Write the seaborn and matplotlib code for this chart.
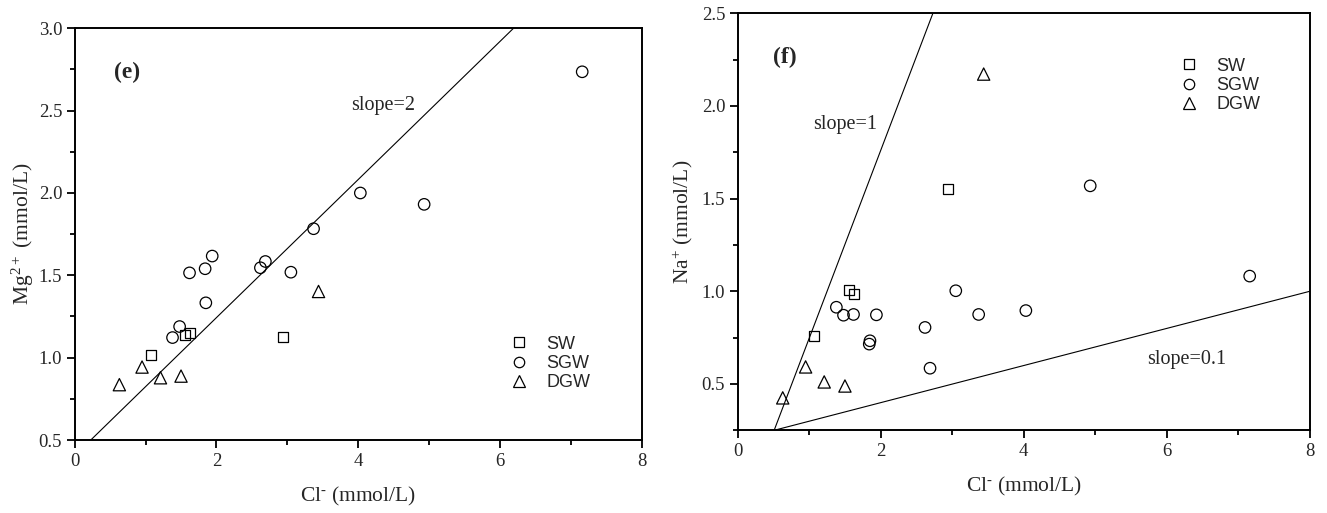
import matplotlib
matplotlib.use("Agg")
import matplotlib.pyplot as plt
import seaborn as sns
import pandas as pd
from matplotlib.lines import Line2D
from matplotlib.ticker import MultipleLocator, FormatStrFormatter

# Sample groups
groups = ["SW", "SGW", "DGW"]

# Chloride (mmol/L)
cl_sw = [1.07, 1.56, 1.62, 2.94]
cl_sgw = [7.16, 4.03, 4.93, 3.37, 1.94, 1.84, 1.62, 2.62, 2.69, 3.05, 1.85, 1.48, 1.38]
cl_dgw = [0.63, 0.95, 1.21, 1.50, 3.44]

# Magnesium (mmol/L)
mg_sw = [1.016, 1.138, 1.148, 1.126]
mg_sgw = [2.736, 2.000, 1.931, 1.783, 1.617, 1.540, 1.515, 1.546, 1.584, 1.519, 1.333, 1.189, 1.122]
mg_dgw = [0.836, 0.943, 0.878, 0.888, 1.402]

# Sodium (mmol/L)
na_sw = [0.759, 1.006, 0.986, 1.550]
na_sgw = [1.082, 0.896, 1.569, 0.875, 0.873, 0.715, 0.875, 0.805, 0.585, 1.003, 0.733, 0.871, 0.914]
na_dgw = [0.425, 0.592, 0.511, 0.489, 2.172]

# Reference lines (end points in data units)
mg_line_x = [0.227, 6.19]
mg_line_y = [0.5, 3.0]
na_line1_x = [0.51, 2.73]
na_line1_y = [0.25, 2.5]
na_line2_x = [0.51, 8.0]
na_line2_y = [0.25, 1.0]

sns.set_style("ticks")
plt.rcParams["font.family"] = ["Liberation Serif", "DejaVu Serif"]
plt.rcParams["mathtext.fontset"] = "custom"
plt.rcParams["mathtext.rm"] = "Liberation Serif"
plt.rcParams["mathtext.default"] = "regular"

df = pd.DataFrame({
    "group": ["SW"] * len(cl_sw) + ["SGW"] * len(cl_sgw) + ["DGW"] * len(cl_dgw),
    "Cl": cl_sw + cl_sgw + cl_dgw,
    "Mg": mg_sw + mg_sgw + mg_dgw,
    "Na": na_sw + na_sgw + na_dgw,
})

markers = {"SW": "s", "SGW": "o", "DGW": "^"}
sizes = {"SW": 52, "SGW": 68, "DGW": 78}

fig = plt.figure(figsize=(13.27, 5.13), dpi=100)
ax1 = fig.add_axes([0.0563, 0.1423, 0.4273, 0.8025])
ax2 = fig.add_axes([0.5559, 0.1612, 0.4311, 0.8129])


def draw_points(ax, ycol):
    for g in groups:
        sub = df[df["group"] == g]
        sns.scatterplot(data=sub, x="Cl", y=ycol, marker=markers[g], s=sizes[g],
                        ax=ax, legend=False, zorder=3)
        coll = ax.collections[-1]
        coll.set_facecolor("none")
        coll.set_edgecolor("black")
        coll.set_linewidth(0.9)


def style_axes(ax, ylim):
    ax.set_xlim(0, 8)
    ax.set_ylim(*ylim)
    ax.xaxis.set_major_locator(MultipleLocator(2))
    ax.xaxis.set_minor_locator(MultipleLocator(1))
    ax.yaxis.set_major_locator(MultipleLocator(0.5))
    ax.yaxis.set_minor_locator(MultipleLocator(0.25))
    ax.yaxis.set_major_formatter(FormatStrFormatter("%.1f"))
    ax.xaxis.set_major_formatter(FormatStrFormatter("%d"))
    for s in ax.spines.values():
        s.set_visible(True)
        s.set_linewidth(1.4)
        s.set_color("black")
    ax.tick_params(which="major", direction="out", length=6, width=1.3,
                   labelsize=13.5, pad=3, color="black")
    ax.tick_params(which="minor", direction="out", length=3.5, width=1.3, color="black")
    ax.set_xlabel(r"Cl$^{\text{-}}$ (mmol/L)", fontsize=15.5, labelpad=11)


def add_legend(ax, anchor):
    handles = [Line2D([], [], linestyle="none", marker=markers[g], markersize=ms,
                      markerfacecolor="none", markeredgecolor="black", markeredgewidth=0.9)
               for g, ms in zip(groups, [6.5, 7.5, 8.0])]
    return ax.legend(handles, groups, loc="upper left", bbox_to_anchor=anchor,
                     frameon=False, handlelength=1.0, handletextpad=1.0,
                     labelspacing=0.12, borderpad=0,
                     prop={"family": "Liberation Sans", "size": 13})


# Panel (e): Mg vs Cl
draw_points(ax1, "Mg")
sns.lineplot(x=mg_line_x, y=mg_line_y, ax=ax1, color="black", linewidth=0.8)
style_axes(ax1, (0.5, 3.0))
ax1.set_ylabel(r"Mg$^{2+}$ (mmol/L)", fontsize=15.5, labelpad=2)
ax1.text(0.55, 2.73, "(e)", fontsize=17, fontweight="bold", va="center", ha="left")
ax1.text(3.9, 2.53, "slope=2", fontsize=14.5, va="center", ha="left")
add_legend(ax1, (0.752, 0.275))

# Panel (f): Na vs Cl
draw_points(ax2, "Na")
sns.lineplot(x=na_line1_x, y=na_line1_y, ax=ax2, color="black", linewidth=0.8)
sns.lineplot(x=na_line2_x, y=na_line2_y, ax=ax2, color="black", linewidth=0.8)
style_axes(ax2, (0.25, 2.5))
ax2.set_ylabel(r"Na$^{+}$ (mmol/L)", fontsize=15.5, labelpad=5)
ax2.text(0.5, 2.26, "(f)", fontsize=17, fontweight="bold", va="center", ha="left")
ax2.text(1.05, 1.90, "slope=1", fontsize=14.5, va="center", ha="left")
ax2.text(5.73, 0.632, "slope=0.1", fontsize=14.5, va="center", ha="left")
add_legend(ax2, (0.758, 0.915))

fig.savefig("out.png", dpi=100)
